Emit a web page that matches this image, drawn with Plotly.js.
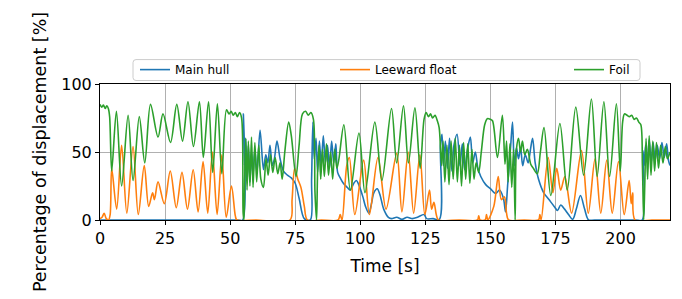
<!DOCTYPE html>
<html>
<head>
<meta charset="utf-8">
<script src="https://cdn.plot.ly/plotly-3.0.1.min.js"></script>
<style>html,body{margin:0;padding:0;background:#fff;}#chart{width:682px;height:299px;}</style>
</head>
<body>
<div id="chart"></div>
<script>
// Series labels
const seriesNames = ["Main hull", "Leeward float", "Foil"];
// Tick values
const xTicks = [0, 25, 50, 75, 100, 125, 150, 175, 200];
const yTicks = [0, 50, 100];

// [time s, % displacement] — Main hull
const hullData = [[0,0],[53,0],[54.8,0],[55.1,78],[55.5,40],[56,60],[56.5,30],[57,55],[57.6,28],[58.2,50],[58.8,33],[59.5,52],[60.3,35],[61.5,66],[62.8,37],[63.7,48],[64.5,42],[65.3,55],[66.2,40],[67,45],[68,58],[69.2,45],[70.5,36],[72,33],[73.5,31],[75,27],[76.5,16],[78.5,1],[80.8,0],[81.3,30],[81.8,72],[82.3,45],[83,60],[83.6,35],[84.3,58],[85,40],[85.8,62],[86.6,42],[87.4,55],[88.2,38],[89,58],[89.8,42],[90.6,56],[91.3,35],[92.3,31],[93.5,27],[95,24],[96.2,22],[97.5,27],[98.5,29],[99.8,24],[101,17],[102,10],[103.3,5],[104.3,12],[105.2,20],[106.5,23],[107.5,19],[109,8],[110.8,2],[112,1],[114,2],[116,0.5],[118,2],[120,1],[122,2],[124.5,4],[125.5,1],[128,1],[130.4,0.5],[130.8,55],[131.4,63],[132,40],[132.7,58],[133.5,38],[134.3,60],[135.2,36],[136,55],[137.2,63],[138.3,40],[139.2,56],[140.1,37],[141.2,52],[142.3,61],[143.2,42],[144.2,50],[145.2,38],[146.3,32],[148.2,26],[150,23],[152,19.5],[153.5,22],[155,16],[155.8,6],[156.6,25],[157.8,55],[158.5,72],[159.2,40],[160,53],[160.8,45],[161.6,53],[162.4,40],[163.4,48],[164.5,42],[165.4,52],[166.2,60],[167.2,42],[168.5,30],[170.5,20],[172.5,15],[174.5,10],[175.8,7],[177,11],[178.5,8],[180,4],[181.6,0.5],[183,8],[184.6,18],[186.2,8],[187.7,0],[190,0],[206,0],[208.3,0],[208.6,51],[209.1,40],[209.6,55],[210.3,42],[211,59],[211.8,42],[212.5,57],[213.3,44],[214.1,55],[215,45],[215.9,57],[216.8,46],[217.7,56],[218.4,44],[219,40]];

// [time s, % displacement] — Leeward float
const floatData = [[0,1],[0.8,2],[1.6,5],[2.4,1],[3.3,0],[3.9,4],[4.5,38],[6.4,8],[8.3,55],[10.3,5],[12.7,54],[14.7,4],[17,40],[18.7,10],[20.2,20],[20.9,15],[22.3,28],[24.7,12],[27,36],[29.3,9],[31.5,35],[33.6,8],[35.8,37],[37.7,6],[39.6,43],[41.4,5],[43.2,50],[45,4],[46.8,48],[48.5,2],[50.5,25],[52,3],[52.6,0],[60,0],[73,0],[73.8,15],[74.8,38],[76,30],[77.2,24],[78.5,10],[79.7,0],[85,0],[91.5,0],[92.3,4],[93,0],[94.8,40],[95.8,46],[97.9,4],[101.3,44],[103.5,4],[106.8,46],[109.9,8],[114,49],[116,6],[118.4,50],[120.5,5],[122.9,48],[124.8,4],[126.6,22],[127.4,8],[128.3,13],[129.2,4],[130,0],[138,0],[145,0],[145.5,3],[146,0],[148,0],[148.5,4],[149,0],[151.3,10],[153,32],[154.2,15],[155.4,17],[156.2,5],[157,0],[163,0],[168.5,0],[169,4],[169.5,0],[172.2,46],[174,20],[175.5,38],[177,22],[178.6,32],[181.2,5],[185,51],[187.6,5],[190.2,45],[192.4,5],[194.7,44],[196.8,5],[199.2,43],[201.4,4],[203.3,29],[204.1,12],[204.7,20],[205.6,0],[212,0],[219,0]];

// [time s, % displacement] — Foil
const foilData = [[0,85],[0.7,83],[1.3,84.5],[2,82],[2.6,84],[3.2,82],[3.7,76],[4.5,36],[6.3,80],[8.3,25],[10.8,77],[12.7,29],[15.1,76],[17.2,42],[19.4,85],[22.3,61],[24.2,78],[27.1,57],[29.5,85],[31.7,58],[33.8,87],[35.9,54],[38.2,87],[39.7,46],[41.7,87],[43.3,35],[45.1,85.5],[46.8,34],[48.6,81],[49.6,78],[50.4,80],[51.2,77],[52,79],[52.8,76],[53.6,79],[54.4,75],[55,5],[55.3,0],[55.6,30],[56,60],[56.5,22],[57,58],[57.6,25],[58.2,61],[58.8,24],[59.5,57],[60.2,28],[61,55],[61.8,30],[62.8,24],[63.8,45],[64.6,33],[65.5,48],[66.4,35],[67.3,46],[68.3,34],[69.2,42],[70,30],[71,50],[72.5,72],[73.5,62],[75.3,32],[76.5,55],[77.8,78],[79,80],[80,77],[81,79],[82,74],[82.6,20],[83.2,0],[83.6,35],[84.2,55],[84.8,30],[85.5,52],[86.2,32],[87,56],[87.8,33],[88.6,50],[89.4,30],[90.2,52],[91,38],[91.8,45],[93.7,70],[96.2,22],[99.5,64],[101.8,20],[105.6,72],[108.3,29],[112,82],[114,42],[116.6,84],[118.5,42],[121,82.5],[123,38],[124.5,74],[125.3,79],[126.2,76],[127,78],[127.8,75],[128.7,77],[129.6,73],[130.3,68],[130.9,50],[131.3,40],[131.8,58],[132.5,28],[133.3,55],[134.1,26],[134.9,58],[135.7,30],[136.5,60],[137.3,28],[138.1,55],[138.9,25],[139.7,57],[140.5,30],[141.3,56],[142.1,27],[142.9,52],[143.7,30],[144.5,42],[145.5,35],[146.5,50],[147.8,70],[148.8,74.5],[150,74],[150.8,73],[152.7,46],[154.6,77],[155.6,41],[156.2,58],[156.8,28],[157.5,56],[158.2,24],[158.9,52],[159.5,0],[160,52],[160.8,60],[161.6,50],[162.3,58],[163.2,48],[164.2,52],[165.5,41],[166.5,38],[168,34],[169.2,50],[170.6,68],[173.2,18],[176.7,71],[179.5,22],[182.8,83],[185.8,33],[188.8,89],[191,32],[193.6,87],[195.8,32],[198.4,85.5],[199.9,36],[200.8,72],[201.5,78],[202.5,77],[203.4,76],[204.3,77],[205.2,74],[206.1,75],[207,72],[207.8,70],[208.4,40],[208.9,0],[209.3,25],[209.8,60],[210.4,30],[211,62],[211.7,33],[212.4,58],[213.1,36],[213.8,57],[214.6,38],[215.4,55],[216.3,42],[217.2,54],[218,45],[219,50]];

const colors = ["#1f77b4", "#ff7f0e", "#2ca02c"];
const FONT = "DejaVu Sans, Liberation Sans, sans-serif";

function mk(data, i, legendId) {
  return {
    x: data.map(p => p[0]),
    y: data.map(p => p[1]),
    type: "scatter",
    mode: "lines",
    name: seriesNames[i],
    legend: legendId,
    line: {color: colors[i], width: 1.6, shape: "spline", smoothing: 0.9},
    hoverinfo: "skip"
  };
}

const traces = [mk(hullData, 0, "legend"), mk(floatData, 1, "legend2"), mk(foilData, 2, "legend3")];

// plot area: x 100..670 px, y 83.5..220 px
const L = 100, R = 670, T = 83.5, B = 220;
const W = R - L, H = B - T;
const px2x = p => (p - L) / W;
const py2y = p => (B - p) / H;

function legendAt(pxLeft) {
  return {
    orientation: "h", x: px2x(pxLeft), y: py2y(54.5), xanchor: "left", yanchor: "top",
    bgcolor: "rgba(0,0,0,0)", borderwidth: 0,
    font: {family: FONT, size: 12, color: "#000"},
    itemwidth: 30
  };
}

// rounded legend frame
const bx0 = px2x(133), bx1 = px2x(640), by0 = py2y(80), by1 = py2y(59);
const rx = 3 / W, ry = 3 / H;
const framePath = `M ${bx0+rx},${by1} L ${bx1-rx},${by1} Q ${bx1},${by1} ${bx1},${by1-ry} L ${bx1},${by0+ry} Q ${bx1},${by0} ${bx1-rx},${by0} L ${bx0+rx},${by0} Q ${bx0},${by0} ${bx0},${by0+ry} L ${bx0},${by1-ry} Q ${bx0},${by1} ${bx0+rx},${by1} Z`;

const axisCommon = {
  showgrid: true, gridcolor: "#b0b0b0", gridwidth: 1,
  showline: true, linecolor: "#000", linewidth: 1, mirror: true,
  ticks: "outside", ticklen: 4, tickcolor: "#000", tickwidth: 1,
  zeroline: false,
  tickfont: {family: FONT, size: 16, color: "#000"}
};

const layout = {
  width: 682, height: 299,
  margin: {l: L, r: 682 - R, t: T, b: 299 - B},
  paper_bgcolor: "#fff", plot_bgcolor: "#fff",
  showlegend: true,
  xaxis: Object.assign({}, axisCommon, {
    range: [0, 219], tickmode: "array", tickvals: xTicks, ticktext: xTicks.map(String),
    title: {text: "Time [s]", font: {family: FONT, size: 17, color: "#000"}, standoff: 12}
  }),
  yaxis: Object.assign({}, axisCommon, {
    range: [0, 100], tickmode: "array", tickvals: yTicks, ticktext: yTicks.map(String),
    title: {text: "Percentage of displacement [%]", font: {family: FONT, size: 17.5, color: "#000"}, standoff: 10}
  }),
  legend: legendAt(135),
  legend2: legendAt(335),
  legend3: legendAt(569),
  shapes: [{type: "path", xref: "paper", yref: "paper", path: framePath,
            line: {color: "#cccccc", width: 1}, fillcolor: "rgba(255,255,255,0.8)", layer: "below"}]
};

Plotly.newPlot("chart", traces, layout, {staticPlot: true, displayModeBar: false});
</script>
</body>
</html>
